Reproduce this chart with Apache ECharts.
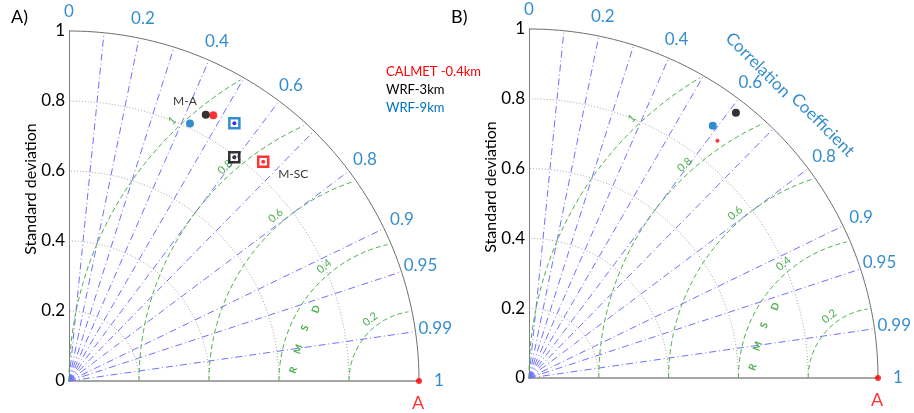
<!DOCTYPE html>
<html>
<head>
<meta charset="utf-8">
<script src="https://cdn.jsdelivr.net/npm/echarts@6/dist/echarts.min.js"></script>
<style>
  html, body { margin: 0; padding: 0; background: #fff; }
  #chart { width: 914px; height: 413px; }
</style>
</head>
<body>
<div id="chart"></div>
<script>
// models and colours
const modelNames = ['CALMET -0.4km', 'WRF-3km', 'WRF-9km'];
const modelColors = ['#ff0000', '#000000', '#0070c0'];
const stationNames = ['M-A', 'M-SC'];

// panel A values, per station [M-A, M-SC]
const calmetStdA = [0.864, 0.837];
const calmetCorrA = [0.477, 0.663];
const wrf3StdA = [0.855, 0.795];
const wrf3CorrA = [0.457, 0.594];
const wrf9StdA = [0.813, 0.875];
const wrf9CorrA = [0.425, 0.540];

// panel B values, per model
const stdB = [0.868, 0.964, 0.894];
const corrB = [0.622, 0.615, 0.589];

// reference (observation)
const refStd = 1;

// axes of the diagram
const stdRings = [0.2, 0.4, 0.6, 0.8];
const corrTicks = [0, 0.2, 0.4, 0.6, 0.8, 0.9, 0.95, 0.99, 1];
const corrLines = [0.1, 0.2, 0.3, 0.4, 0.5, 0.6, 0.7, 0.8, 0.9, 0.95, 0.99];
const rmsdRings = [0.2, 0.4, 0.6, 0.8, 1];

const FONT = 'Lato';
const TICK_BLUE = '#0070c0';
const GREEN_TXT = '#1f9a1f';

const chart = echarts.init(document.getElementById('chart'));

// std + correlation -> x,y
function xy(s, c) {
  return [s * c, s * Math.sqrt(Math.max(0, 1 - c * c))];
}

function arc(cx, r, a0, a1) {
  const pts = [];
  const n = 90;
  for (let k = 0; k <= n; k++) {
    const a = (a0 + (a1 - a0) * k / n) * Math.PI / 180;
    pts.push([cx + r * Math.cos(a), r * Math.sin(a)]);
  }
  return pts;
}

function lineSeries(p, data, lineStyle) {
  return {
    type: 'line', xAxisIndex: p, yAxisIndex: p, data,
    symbol: 'none', silent: true, clip: false, animation: false,
    lineStyle, z: 1
  };
}

function textSeries(p, data, label) {
  return {
    type: 'scatter', xAxisIndex: p, yAxisIndex: p, data,
    symbolSize: 0, silent: true, clip: false, animation: false,
    label: Object.assign({ show: true, fontFamily: FONT, formatter: '{b}' }, label),
    z: 3
  };
}

// grid lines, arcs and labels shared by both panels
function frame(p) {
  const out = [];
  stdRings.forEach(r => {
    out.push(lineSeries(p, arc(0, r, 0, 90), { color: '#a6a6a6', width: 1, type: [1, 2] }));
  });
  corrLines.forEach(c => {
    out.push(lineSeries(p, [[0, 0], xy(1, c)], { color: '#7070ff', width: 1, type: [7, 3, 1, 3] }));
  });
  rmsdRings.forEach(r => {
    const end = Math.acos((0.99 * 0.99 - refStd * refStd - r * r) / (2 * r * refStd)) * 180 / Math.PI;
    out.push(lineSeries(p, arc(refStd, r, 180, end), { color: '#4ab04a', width: 1, type: [5, 3] }));
  });
  out.push(lineSeries(p, arc(0, 1, 0, 90), { color: '#6e6e6e', width: 1 }));

  // correlation tick labels
  out.push(textSeries(p, corrTicks.map(c => ({ value: xy(1.057, c), name: String(c) })), {
    position: 'inside', color: TICK_BLUE, fontSize: 17
  }));

  // RMSD labels
  out.push(textSeries(p, rmsdRings.map(r => {
    const deg = 127 + 6.5 * r;
    const a = deg * Math.PI / 180;
    const rr = r + 0.025;
    return {
      value: [refStd + rr * Math.cos(a), rr * Math.sin(a)],
      name: String(r),
      label: { rotate: deg - 90 }
    };
  }), { position: 'inside', color: GREEN_TXT, fontSize: 11 }));

  // "R M S D"
  const letters = [['R', 0.641, 0.031], ['M', 0.655, 0.091], ['S', 0.674, 0.151], ['D', 0.706, 0.205]];
  out.push(textSeries(p, letters.map(l => ({ value: [l[1], l[2]], name: l[0] })), {
    position: 'inside', color: GREEN_TXT, fontSize: 10, fontWeight: 'bold', rotate: 70
  }));

  // reference point
  out.push({
    type: 'scatter', xAxisIndex: p, yAxisIndex: p, silent: true, animation: false,
    data: [{ value: [refStd, 0], name: 'A' }],
    symbolSize: 6, itemStyle: { color: '#ff0000' }, z: 5, clip: false,
    label: {
      show: true, formatter: '{b}', position: 'inside', offset: [-1, 22],
      color: '#ff0000', fontSize: 18, fontFamily: FONT
    }
  });
  return out;
}

const series = [];
series.push(...frame(0), ...frame(1));

// panel A points: circle = M-A, hollow square with dot = M-SC
const statsA = [[calmetStdA, calmetCorrA], [wrf3StdA, wrf3CorrA], [wrf9StdA, wrf9CorrA]];
const dotColorsA = ['#ff0000', '#000000', '#0000ff'];
modelNames.forEach((name, i) => {
  const sd = statsA[i][0];
  const cc = statsA[i][1];
  const circle = {
    value: xy(sd[0], cc[0]), symbol: 'circle', symbolSize: 8,
    itemStyle: { color: modelColors[i] }
  };
  if (i === 2) {
    circle.label = {
      show: true, formatter: stationNames[0], position: 'inside', offset: [-5, -22],
      color: '#000', fontSize: 12, fontFamily: FONT
    };
  }
  const square = {
    value: xy(sd[1], cc[1]), symbol: 'rect', symbolSize: 10,
    itemStyle: { color: 'rgba(0,0,0,0)', borderColor: modelColors[i], borderWidth: 2.5 }
  };
  if (i === 0) {
    square.label = {
      show: true, formatter: stationNames[1], position: 'inside', offset: [30, 12],
      color: '#000', fontSize: 12, fontFamily: FONT
    };
  }
  series.push({
    type: 'scatter', name, xAxisIndex: 0, yAxisIndex: 0, z: 10,
    animation: false, data: [circle, square]
  });
  series.push({
    type: 'scatter', name, xAxisIndex: 0, yAxisIndex: 0, z: 11,
    animation: false, data: [xy(sd[1], cc[1])], symbolSize: 4,
    itemStyle: { color: dotColorsA[i] }
  });
});

// panel B points
modelNames.forEach((name, i) => {
  series.push({
    type: 'scatter', name, xAxisIndex: 1, yAxisIndex: 1, z: 10, animation: false,
    data: [xy(stdB[i], corrB[i])], symbolSize: i === 0 ? 4 : 8,
    itemStyle: { color: modelColors[i] }
  });
});

// "Correlation Coefficient" title in panel B
series.push(textSeries(1, [
  { value: [0.656, 0.897], name: 'Correlation' },
  { value: [0.842, 0.725], name: 'Coefficient' }
], { position: 'inside', color: TICK_BLUE, fontSize: 17, rotate: -45 }));

function xAxis(p) {
  return {
    type: 'value', gridIndex: p, min: 0, max: 1,
    axisLine: { show: true, lineStyle: { color: '#a6a6a6', width: 2 } },
    axisTick: { show: false }, axisLabel: { show: false }, splitLine: { show: false }
  };
}
function yAxis(p) {
  return {
    type: 'value', gridIndex: p, min: 0, max: 1, interval: 0.2,
    axisLine: { show: true, lineStyle: { color: '#7f7f7f', width: 1 } },
    axisTick: { show: false }, splitLine: { show: false },
    axisLabel: { color: '#000', fontSize: 17, fontFamily: FONT, margin: 4,
      formatter: v => String(Math.round(v * 10) / 10) }
  };
}

function sdTitle(x, y) {
  return {
    type: 'text', x, y, rotation: Math.PI / 2, silent: true,
    style: {
      text: 'Standard deviation', fill: '#000', fontSize: 16, fontFamily: FONT,
      textAlign: 'center', textVerticalAlign: 'middle', align: 'center', verticalAlign: 'middle'
    }
  };
}
function panelTag(x, text) {
  return {
    type: 'text', x, y: 17, silent: true,
    style: {
      text, fill: '#000', fontSize: 18, fontFamily: FONT,
      textAlign: 'left', textVerticalAlign: 'middle', align: 'left', verticalAlign: 'middle'
    }
  };
}

chart.setOption({
  animation: false,
  backgroundColor: '#fff',
  grid: [
    { left: 69, top: 31, width: 350, height: 350 },
    { left: 529, top: 29, width: 349, height: 349 }
  ],
  xAxis: [xAxis(0), xAxis(1)],
  yAxis: [yAxis(0), yAxis(1)],
  legend: {
    left: 381, top: 65, orient: 'vertical', padding: 0, itemGap: 4,
    itemWidth: 0, itemHeight: 0, icon: 'none', selectedMode: false,
    textStyle: { fontSize: 13, fontFamily: FONT, lineHeight: 14 },
    data: modelNames.map((n, i) => ({ name: n, textStyle: { color: modelColors[i] } }))
  },
  graphic: [
    panelTag(11, 'A)'),
    panelTag(451, 'B)'),
    sdTitle(31, 189),
    sdTitle(491, 187)
  ],
  series
});
</script>
</body>
</html>
